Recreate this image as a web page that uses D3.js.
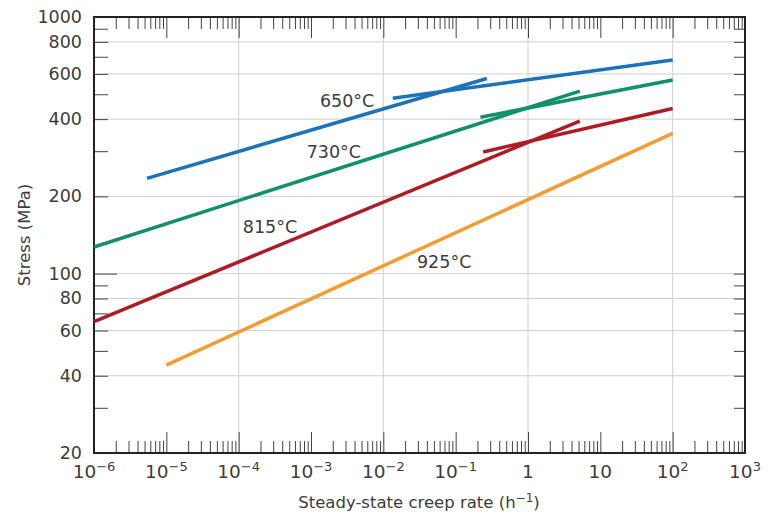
<!DOCTYPE html>
<html>
<head>
<meta charset="utf-8">
<style>
body { margin: 0; background: #fff; }
svg text { font-family: "DejaVu Sans", sans-serif; fill: #3c3c3c; }
.grid line { stroke: #cfcfcf; stroke-width: 1; }
.tick line { stroke: #444; }
.domain { display: none; }
</style>
</head>
<body>
<svg width="771" height="514"></svg>
<script src="https://d3js.org/d3.v7.min.js"></script>
<script>

// temperatures and the two straight-line segments per curve (rate h^-1, stress MPa)
var temps = ["650°C", "730°C", "815°C", "925°C"];
var lowRate    = [[5.4e-6, 0.27], [1e-6, 5.2], [1e-6, 5.2], [1e-5, 100]];
var lowStress  = [[235, 576],     [127, 514],  [65, 393],   [44, 352]];
var highRate   = [[0.0135, 100],  [0.22, 100], [0.24, 100], null];
var highStress = [[482, 680],     [407, 568],  [298, 440],  null];
// where each temperature label sits (data coords)
var labelRate   = [1.33e-3, 8.7e-4, 1.14e-4, 0.0292];
var labelStress = [447, 283, 144, 105];

var xDecades = [-6, -5, -4, -3, -2, -1, 0, 1, 2, 3];
var xGridDecades = [-4, -2, 0, 2];
var yLabels = [20, 40, 60, 80, 100, 200, 400, 600, 800, 1000];
var yMinor = [30, 50, 70, 90, 300, 500, 700, 900];
var yGrid = [40, 60, 80, 100, 200, 400, 600, 800];

var colors = ["#1c73b9", "#11906b", "#ad1c25", "#f39c31"];

var svg = d3.select("svg");
var pL = 94, pR = 745, pT = 17, pB = 453;

var x = d3.scaleLog().domain([1e-6, 1e3]).range([pL, pR]);
var y = d3.scaleLog().domain([20, 1000]).range([pB, pT]);

var xMajor = xDecades.map(function(e) { return Math.pow(10, e); });
var xMinor = [];
xDecades.slice(0, -1).forEach(function(e) {
  for (var k = 2; k <= 9; k++) xMinor.push(k * Math.pow(10, e));
});

// grid
var grid = svg.append("g").attr("class", "grid");
grid.selectAll("line.v").data(xGridDecades).enter().append("line")
    .attr("x1", function(e) { return x(Math.pow(10, e)); })
    .attr("x2", function(e) { return x(Math.pow(10, e)); })
    .attr("y1", pT).attr("y2", pB);
grid.selectAll("line.h").data(yGrid).enter().append("line")
    .attr("y1", function(d) { return y(d); })
    .attr("y2", function(d) { return y(d); })
    .attr("x1", pL).attr("x2", pR);

// ticks, all pointing inward
function addAxis(gen, tr) {
  svg.append("g").attr("transform", tr).call(gen);
}
addAxis(d3.axisBottom(x).tickValues(xMinor).tickSize(-12).tickFormat(""), "translate(0," + pB + ")");
addAxis(d3.axisBottom(x).tickValues(xMajor).tickSize(-21).tickFormat(""), "translate(0," + pB + ")");
addAxis(d3.axisTop(x).tickValues(xMinor).tickSize(-12).tickFormat(""), "translate(0," + pT + ")");
addAxis(d3.axisTop(x).tickValues(xMajor).tickSize(-21).tickFormat(""), "translate(0," + pT + ")");

var yTicks = yMinor.concat(yLabels.filter(function(d) { return d !== 20 && d !== 1000 && d !== 100; }));
addAxis(d3.axisLeft(y).tickValues(yTicks).tickSize(-14).tickFormat(""), "translate(" + pL + ",0)");
addAxis(d3.axisLeft(y).tickValues([100]).tickSize(-23).tickFormat(""), "translate(" + pL + ",0)");
addAxis(d3.axisRight(y).tickValues(yTicks.concat([100])).tickSize(-11).tickFormat(""), "translate(" + pR + ",0)");

// frame
svg.append("rect")
    .attr("x", pL).attr("y", pT)
    .attr("width", pR - pL).attr("height", pB - pT)
    .attr("fill", "none").attr("stroke", "#222").attr("stroke-width", 2);

// y tick labels
svg.selectAll("text.ylab").data(yLabels).enter().append("text")
    .attr("x", pL - 12)
    .attr("y", function(d) { return y(d) + 6; })
    .attr("text-anchor", "end")
    .attr("font-size", 17.5)
    .text(function(d) { return d; });

// x tick labels
var xl = svg.selectAll("text.xlab").data(xDecades).enter().append("text")
    .attr("x", function(e) { return x(Math.pow(10, e)); })
    .attr("y", 478)
    .attr("text-anchor", "middle")
    .attr("font-size", 18.5);
xl.each(function(e) {
  var t = d3.select(this);
  if (e === 0) { t.text("1"); return; }
  if (e === 1) { t.text("10"); return; }
  t.append("tspan").text("10");
  t.append("tspan").attr("dy", -7).attr("font-size", 13)
      .text(e < 0 ? "\u2212" + (-e) : e);
});

// axis titles
var xt = svg.append("text")
    .attr("x", 419).attr("y", 508)
    .attr("text-anchor", "middle")
    .attr("font-size", 16.5);
xt.append("tspan").text("Steady-state creep rate (h");
xt.append("tspan").attr("dy", -6).attr("font-size", 12).text("\u22121");
xt.append("tspan").attr("dy", 6).text(")");

svg.append("text")
    .attr("transform", "translate(30,235) rotate(-90)")
    .attr("text-anchor", "middle")
    .attr("font-size", 16.5)
    .text("Stress (MPa)");

// curves
var line = d3.line()
    .x(function(d) { return x(d[0]); })
    .y(function(d) { return y(d[1]); });

var curves = svg.append("g");
temps.forEach(function(t, i) {
  var segs = [[lowRate[i], lowStress[i]], [highRate[i], highStress[i]]];
  segs.forEach(function(s) {
    if (!s[0]) return;
    curves.append("path")
        .datum([[s[0][0], s[1][0]], [s[0][1], s[1][1]]])
        .attr("d", line)
        .attr("fill", "none")
        .attr("stroke", colors[i])
        .attr("stroke-width", 3.5);
  });
});

// temperature labels
svg.selectAll("text.temp").data(temps).enter().append("text")
    .attr("x", function(d, i) { return x(labelRate[i]); })
    .attr("y", function(d, i) { return y(labelStress[i]); })
    .attr("font-size", 17.5)
    .text(function(d) { return d; });

</script>
</body>
</html>
